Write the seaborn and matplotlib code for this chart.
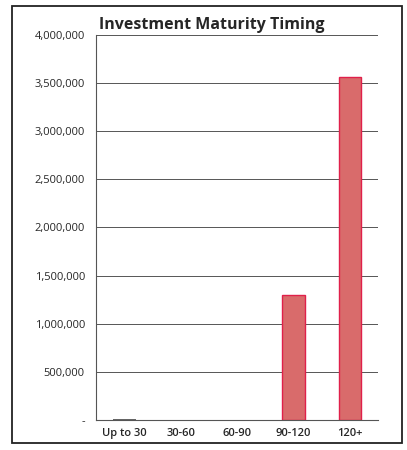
import matplotlib
matplotlib.use("Agg")
import matplotlib.pyplot as plt
from matplotlib.patches import Rectangle
from matplotlib.ticker import FixedLocator, FuncFormatter
import seaborn as sns
import pandas as pd

# data
buckets = ["Up to 30", "30-60", "60-90", "90-120", "120+"]
amounts = [8000, 0, 0, 1300000, 3560000]

df = pd.DataFrame({"bucket": buckets, "amount": amounts})

sns.set_style("white")
plt.rcParams["font.family"] = ["Open Sans", "DejaVu Sans"]

fig = plt.figure(figsize=(4.07, 4.5), dpi=100)
ax = fig.add_axes([0.236, 0.067, 0.693, 0.855])

sns.barplot(data=df, x="bucket", y="amount", ax=ax, width=0.4,
            color="#d96b6b", edgecolor="#e0204a", linewidth=1.0, saturation=1)
# no outline on empty buckets
for bar, v in zip(ax.patches, amounts):
    if v < 50000:
        bar.set_linewidth(0)
        bar.set_facecolor("#666666")

ax.set_ylim(0, 4000000)
ax.set_xlim(-0.5, len(buckets) - 0.5)
ax.set_yticks(range(0, 4000001, 500000))
ax.yaxis.set_major_formatter(FuncFormatter(lambda v, p: "-" if v == 0 else f"{int(v):,}"))
ax.grid(axis="y", color="#555555", linewidth=0.7)
ax.set_axisbelow(True)

for s in ["top", "right"]:
    ax.spines[s].set_visible(False)
ax.spines["left"].set_color("#555555")
ax.spines["bottom"].set_color("#555555")

ax.tick_params(axis="y", length=0, labelsize=8, pad=8)
ax.tick_params(axis="x", which="major", length=0, labelsize=8, pad=6)
ax.xaxis.set_minor_locator(FixedLocator([i - 0.5 for i in range(len(buckets) + 1)]))
ax.tick_params(axis="x", which="minor", length=4, color="#555555", direction="inout")
for lbl in ax.get_xticklabels():
    lbl.set_fontweight("semibold")
ax.set_xlabel("")
ax.set_ylabel("")

fig.text(0.52, 0.945, "Investment Maturity Timing", ha="center", va="center",
         fontsize=11.5, fontweight="bold")

fig.patches.append(Rectangle((0.03, 0.015), 0.958, 0.972, transform=fig.transFigure,
                             fill=False, edgecolor="#222222", linewidth=1.3))

fig.savefig("out.png", dpi=100)
